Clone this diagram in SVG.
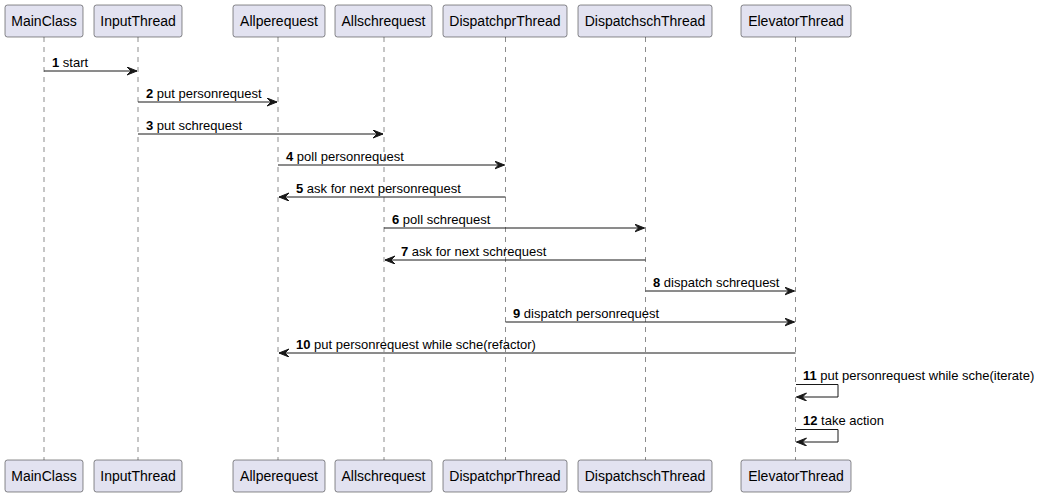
<svg xmlns="http://www.w3.org/2000/svg" width="1041" height="496" viewBox="0 0 1041 496">
<style>
.box{fill:#E2E2F0;stroke:#181818;stroke-width:0.5}
.life{stroke:#181818;stroke-width:0.5;stroke-dasharray:5,5;fill:none}
.pt{font-family:"Liberation Sans",Arial,sans-serif;font-size:14px;fill:#000;text-anchor:middle}
.msg{stroke:#181818;stroke-width:1;fill:none}
.lbl{font-family:"Liberation Sans",Arial,sans-serif;font-size:13px;fill:#000}
.num{font-weight:bold}
</style>
<defs>
<marker id="ah" markerWidth="12" markerHeight="10" refX="10" refY="4" orient="auto" markerUnits="userSpaceOnUse">
<polygon points="0,0 10,4 0,8 4,4" fill="#181818" stroke="#181818" stroke-width="1"/>
</marker>
</defs>
<rect width="1041" height="496" fill="#FFFFFF"/>
<g id="lifelines">
<line class="life" x1="44" y1="37" x2="44" y2="460"/>
<line class="life" x1="138" y1="37" x2="138" y2="460"/>
<line class="life" x1="278" y1="37" x2="278" y2="460"/>
<line class="life" x1="384" y1="37" x2="384" y2="460"/>
<line class="life" x1="505.5" y1="37" x2="505.5" y2="460"/>
<line class="life" x1="645.5" y1="37" x2="645.5" y2="460"/>
<line class="life" x1="795.5" y1="37" x2="795.5" y2="460"/>
</g>
<g id="MainClass">
<rect class="box" x="5" y="5" width="78" height="32" rx="2.5"/><text class="pt" x="44" y="26">MainClass</text>
<rect class="box" x="5" y="460" width="78" height="32" rx="2.5"/><text class="pt" x="44" y="481">MainClass</text>
</g>
<g id="InputThread">
<rect class="box" x="94" y="5" width="88" height="32" rx="2.5"/><text class="pt" x="138" y="26">InputThread</text>
<rect class="box" x="94" y="460" width="88" height="32" rx="2.5"/><text class="pt" x="138" y="481">InputThread</text>
</g>
<g id="Allperequest">
<rect class="box" x="233" y="5" width="92" height="32" rx="2.5"/><text class="pt" x="279" y="26">Allperequest</text>
<rect class="box" x="233" y="460" width="92" height="32" rx="2.5"/><text class="pt" x="279" y="481">Allperequest</text>
</g>
<g id="Allschrequest">
<rect class="box" x="335" y="5" width="97" height="32" rx="2.5"/><text class="pt" x="383.5" y="26">Allschrequest</text>
<rect class="box" x="335" y="460" width="97" height="32" rx="2.5"/><text class="pt" x="383.5" y="481">Allschrequest</text>
</g>
<g id="DispatchprThread">
<rect class="box" x="443" y="5" width="124" height="32" rx="2.5"/><text class="pt" x="505" y="26">DispatchprThread</text>
<rect class="box" x="443" y="460" width="124" height="32" rx="2.5"/><text class="pt" x="505" y="481">DispatchprThread</text>
</g>
<g id="DispatchschThread">
<rect class="box" x="578" y="5" width="134" height="32" rx="2.5"/><text class="pt" x="645" y="26">DispatchschThread</text>
<rect class="box" x="578" y="460" width="134" height="32" rx="2.5"/><text class="pt" x="645" y="481">DispatchschThread</text>
</g>
<g id="ElevatorThread">
<rect class="box" x="741" y="5" width="110" height="32" rx="2.5"/><text class="pt" x="796" y="26">ElevatorThread</text>
<rect class="box" x="741" y="460" width="110" height="32" rx="2.5"/><text class="pt" x="796" y="481">ElevatorThread</text>
</g>
<g id="connectors">
<line class="msg" x1="44" y1="71" x2="137" y2="71" marker-end="url(#ah)"/>
<text class="lbl" x="52" y="67"><tspan class="num">1</tspan> start</text>
<line class="msg" x1="138" y1="102" x2="277" y2="102" marker-end="url(#ah)"/>
<text class="lbl" x="146" y="98"><tspan class="num">2</tspan> put personrequest</text>
<line class="msg" x1="138" y1="134" x2="383" y2="134" marker-end="url(#ah)"/>
<text class="lbl" x="146" y="130"><tspan class="num">3</tspan> put schrequest</text>
<line class="msg" x1="278" y1="165" x2="504.5" y2="165" marker-end="url(#ah)"/>
<text class="lbl" x="286" y="161"><tspan class="num">4</tspan> poll personrequest</text>
<line class="msg" x1="505.5" y1="197" x2="279" y2="197" marker-end="url(#ah)"/>
<text class="lbl" x="296" y="193"><tspan class="num">5</tspan> ask for next personrequest</text>
<line class="msg" x1="384" y1="228" x2="644.5" y2="228" marker-end="url(#ah)"/>
<text class="lbl" x="392" y="224"><tspan class="num">6</tspan> poll schrequest</text>
<line class="msg" x1="645.5" y1="260" x2="385" y2="260" marker-end="url(#ah)"/>
<text class="lbl" x="401" y="256"><tspan class="num">7</tspan> ask for next schrequest</text>
<line class="msg" x1="645.5" y1="291" x2="794.5" y2="291" marker-end="url(#ah)"/>
<text class="lbl" x="653" y="287"><tspan class="num">8</tspan> dispatch schrequest</text>
<line class="msg" x1="505.5" y1="322" x2="794.5" y2="322" marker-end="url(#ah)"/>
<text class="lbl" x="513" y="318"><tspan class="num">9</tspan> dispatch personrequest</text>
<line class="msg" x1="795.5" y1="353" x2="279" y2="353" marker-end="url(#ah)"/>
<text class="lbl" x="296" y="349"><tspan class="num">10</tspan> put personrequest while sche(refactor)</text>
<polyline class="msg" points="796,384.5 838,384.5 838,397 796.5,397" marker-end="url(#ah)"/>
<text class="lbl" x="803" y="380"><tspan class="num">11</tspan> put personrequest while sche(iterate)</text>
<polyline class="msg" points="796,429.5 838,429.5 838,442 796.5,442" marker-end="url(#ah)"/>
<text class="lbl" x="803" y="425"><tspan class="num">12</tspan> take action</text>
</g>
</svg>
